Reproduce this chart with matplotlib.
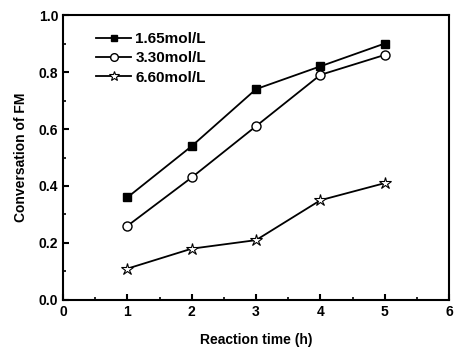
import matplotlib
matplotlib.use("Agg")
import matplotlib.pyplot as plt

plt.rcParams['font.family'] = ['Liberation Sans', 'DejaVu Sans']
plt.rcParams['font.weight'] = 'bold'

time_h = [1, 2, 3, 4, 5]
conv_165 = [0.36, 0.54, 0.74, 0.82, 0.90]
conv_330 = [0.26, 0.43, 0.61, 0.79, 0.86]
conv_660 = [0.11, 0.18, 0.21, 0.35, 0.41]
labels = ['1.65mol/L', '3.30mol/L', '6.60mol/L']

fig = plt.figure(figsize=(4.54, 3.5), dpi=100)
ax = fig.add_axes([0.139, 0.143, 0.85, 0.814])

ax.plot(time_h, conv_165, 'k-', marker='s', ms=5.5, mfc='black', lw=1.3, label=labels[0])
ax.plot(time_h, conv_330, 'k-', marker='o', ms=6.5, mfc='white', lw=1.3, label=labels[1])
ax.plot(time_h, conv_660, 'k-', marker='*', ms=9, mfc='white', mew=0.8, lw=1.3, label=labels[2])

ax.set_xlim(0, 6)
ax.set_ylim(0, 1.0)
ax.set_xticks(range(0, 7))
ax.set_xticks([0.5, 1.5, 2.5, 3.5, 4.5, 5.5], minor=True)
ax.set_yticks([0.0, 0.2, 0.4, 0.6, 0.8, 1.0])
ax.set_yticks([0.1, 0.3, 0.5, 0.7, 0.9], minor=True)
ax.tick_params(direction='in', which='major', length=4, width=1.5, labelsize=10, top=False, right=False)
ax.tick_params(direction='in', which='minor', length=2, width=1.2, top=False, right=False)
for s in ax.spines.values():
    s.set_linewidth(1.5)

ax.set_xlabel('Reaction time (h)', fontsize=10, fontweight='bold', labelpad=10)
ax.set_ylabel('Conversation of FM', fontsize=10, fontweight='bold', labelpad=8)

leg = ax.legend(loc='upper left', bbox_to_anchor=(0.086, 0.94), frameon=False, fontsize=11,
                handlelength=2.3, labelspacing=0.35, handletextpad=0.25,
                borderpad=0, borderaxespad=0, markerscale=0.85)

fig.savefig('out.png', dpi=100)
